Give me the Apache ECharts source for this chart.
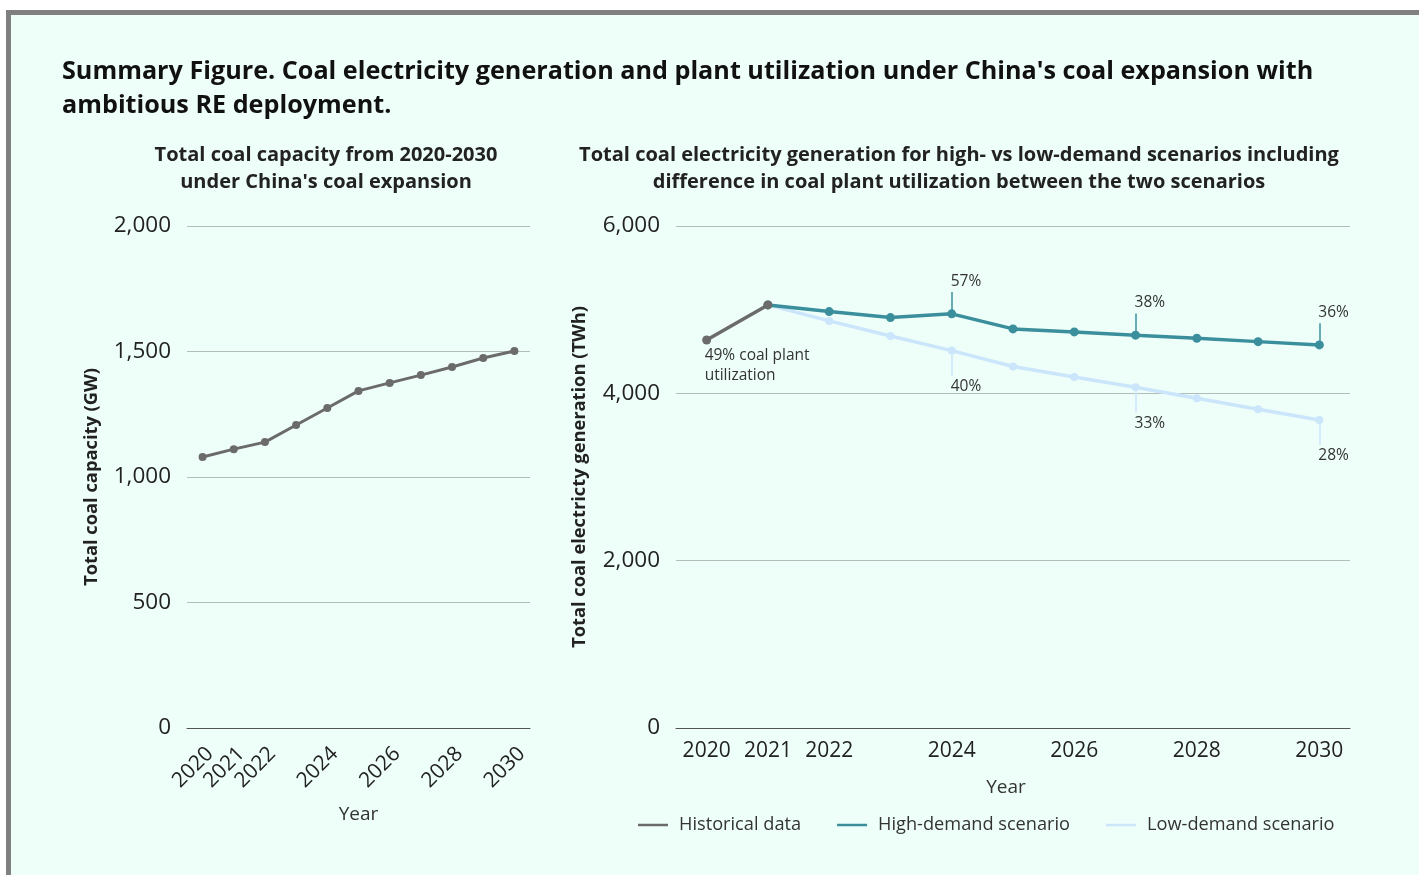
<!DOCTYPE html>
<html><head><meta charset="utf-8">
<script src="https://cdn.jsdelivr.net/npm/echarts@6/dist/echarts.min.js"></script>
<style>
html,body{margin:0;padding:0;width:1419px;height:875px;overflow:hidden;background:#fff;}
#frame{position:absolute;left:6px;top:10px;width:1500px;height:1000px;border-left:5px solid #808080;border-top:5px solid #808080;background:#eefffa;}
#chart{position:absolute;left:0;top:0;width:1419px;height:875px;}
</style></head>
<body><div id="frame"></div><div id="chart"></div>
<script>
const years = ['2020','2021','2022','2023','2024','2025','2026','2027','2028','2029','2030'];
const shownYears = ['2020','2021','2022','2024','2026','2028','2030'];
const capacityGW = [1080, 1111, 1139, 1207, 1275, 1343, 1375, 1406, 1438, 1474, 1502];
const historicalTWh = [4638, 5057, null, null, null, null, null, null, null, null, null];
const highDemandTWh = [null, 5057, 4977, 4905, 4950, 4770, 4734, 4695, 4659, 4618, 4579];
const lowDemandTWh = [null, 5057, 4866, 4686, 4511, 4320, 4196, 4073, 3941, 3810, 3682];
const highUtil = [{year:'2024', label:'57%'}, {year:'2027', label:'38%'}, {year:'2030', label:'36%'}];
const lowUtil = [{year:'2024', label:'40%'}, {year:'2027', label:'33%'}, {year:'2030', label:'28%'}];
const histUtilLabel = '49% coal plant\nutilization';

const GRAY = '#6b6b6b', TEAL = '#3b8f9d', LIGHT = '#cbe5fb';
const FONT = '"Open Sans", "Noto Sans", sans-serif';

function lineMarks(series, anns, dir, color, lead, txt) {
  const lines = anns.map(a => {
    const v = series[years.indexOf(a.year)];
    return [{coord:[a.year, v]}, {coord:[a.year, v + dir*lead]}];
  });
  const pts = anns.map(a => {
    const v = series[years.indexOf(a.year)];
    return {coord:[a.year, v + dir*txt], value:a.label};
  });
  return {
    markLine: {silent:true, symbol:['none','none'], lineStyle:{color:color, width:1.5, type:'solid'}, label:{show:false}, data:lines, animation:false},
    markPoint: {silent:true, symbol:'circle', symbolSize:0, animation:false,
      label:{show:true, position:'right', distance:-1, formatter:p => p.value, color:'#333', fontSize:15.5, fontFamily:FONT},
      data:pts}
  };
}

const hm = lineMarks(highDemandTWh, highUtil, 1, TEAL, 260, 385);
const lm = lineMarks(lowDemandTWh, lowUtil, -1, LIGHT, 300, 430);

const chart = echarts.init(document.getElementById('chart'), null, {renderer:'canvas'});
chart.setOption({
  animation:false,
  backgroundColor:'transparent',
  title:[
    {text:"Summary Figure. Coal electricity generation and plant utilization under China's coal expansion with\nambitious RE deployment.",
     left:62, top:55, padding:0, textStyle:{fontFamily:FONT, fontWeight:'bold', fontSize:25.2, color:'#111', lineHeight:34}},
    {text:"Total coal capacity from 2020-2030\nunder China's coal expansion", left:326, top:142, padding:0, textAlign:'center',
     textStyle:{fontFamily:FONT, fontWeight:'bold', fontSize:20, color:'#222', lineHeight:27}},
    {text:"Total coal electricity generation for high- vs low-demand scenarios including\ndifference in coal plant utilization between the two scenarios", left:959, top:142, padding:0, textAlign:'center',
     textStyle:{fontFamily:FONT, fontWeight:'bold', fontSize:20, color:'#222', lineHeight:27}}
  ],
  legend:{
    data:['Historical data','High-demand scenario','Low-demand scenario'],
    left:633, top:811, icon:'rect', itemWidth:30, itemHeight:2.5, itemGap:36,
    textStyle:{fontFamily:FONT, fontSize:18.2, color:'#333', padding:[0,0,0,6]}
  },
  grid:[
    {left:187, right:889, top:226, bottom:147},
    {left:676, right:69, top:226, bottom:147}
  ],
  xAxis:[
    {type:'category', gridIndex:0, data:years, boundaryGap:true,
     axisLine:{lineStyle:{color:'#555', width:1}}, axisTick:{show:false},
     axisLabel:{interval:(i, v) => shownYears.indexOf(v) >= 0, color:'#222', fontSize:21, fontFamily:FONT, rotate:45, margin:15, verticalAlign:'top'},
     name:'Year', nameLocation:'middle', nameGap:77, nameTextStyle:{fontFamily:FONT, fontSize:19, color:'#333'}},
    {type:'category', gridIndex:1, data:years, boundaryGap:true,
     axisLine:{lineStyle:{color:'#555', width:1}}, axisTick:{show:false},
     axisLabel:{interval:(i, v) => shownYears.indexOf(v) >= 0, color:'#222', fontSize:21, fontFamily:FONT, margin:13},
     name:'Year', nameLocation:'middle', nameGap:50, nameTextStyle:{fontFamily:FONT, fontSize:19, color:'#333', padding:[0,14,0,0]}}
  ],
  yAxis:[
    {type:'value', gridIndex:0, min:0, max:2000, interval:500,
     axisLine:{show:false}, axisTick:{show:false},
     splitLine:{lineStyle:{color:'#b3bdb9', width:1}},
     axisLabel:{color:'#222', fontSize:22.5, fontFamily:FONT, margin:16, padding:[6,0,0,0], formatter:v => v.toLocaleString('en-US')},
     name:'Total coal capacity (GW)', nameLocation:'middle', nameGap:86,
     nameTextStyle:{fontFamily:FONT, fontWeight:'bold', fontSize:18.3, color:'#222'}},
    {type:'value', gridIndex:1, min:0, max:6000, interval:2000,
     axisLine:{show:false}, axisTick:{show:false},
     splitLine:{lineStyle:{color:'#b3bdb9', width:1}},
     axisLabel:{color:'#222', fontSize:22.5, fontFamily:FONT, margin:16, padding:[6,0,0,0], formatter:v => v.toLocaleString('en-US')},
     name:'Total coal electricty generation (TWh)', nameLocation:'middle', nameGap:87,
     nameTextStyle:{fontFamily:FONT, fontWeight:'bold', fontSize:18.3, color:'#222'}}
  ],
  series:[
    {name:'Capacity', type:'line', xAxisIndex:0, yAxisIndex:0, data:capacityGW,
     symbol:'circle', symbolSize:8, lineStyle:{color:GRAY, width:3}, itemStyle:{color:GRAY}},
    {name:'Low-demand scenario', type:'line', xAxisIndex:1, yAxisIndex:1, data:lowDemandTWh, z:2,
     symbol:'circle', symbolSize:8, lineStyle:{color:LIGHT, width:3.5}, itemStyle:{color:LIGHT}, ...lm},
    {name:'High-demand scenario', type:'line', xAxisIndex:1, yAxisIndex:1, data:highDemandTWh, z:3,
     symbol:'circle', symbolSize:9, lineStyle:{color:TEAL, width:3.5}, itemStyle:{color:TEAL}, ...hm},
    {name:'Historical data', type:'line', xAxisIndex:1, yAxisIndex:1, data:historicalTWh, z:4,
     symbol:'circle', symbolSize:9, lineStyle:{color:GRAY, width:3.5}, itemStyle:{color:GRAY},
     markPoint:{silent:true, symbol:'circle', symbolSize:0, animation:false,
       label:{show:true, position:[-2, 6], formatter:histUtilLabel, color:'#333', fontSize:15.5, fontFamily:FONT, lineHeight:20, align:'left'},
       data:[{coord:[years[0], historicalTWh[0]]}]}}
  ]
});
</script></body></html>
